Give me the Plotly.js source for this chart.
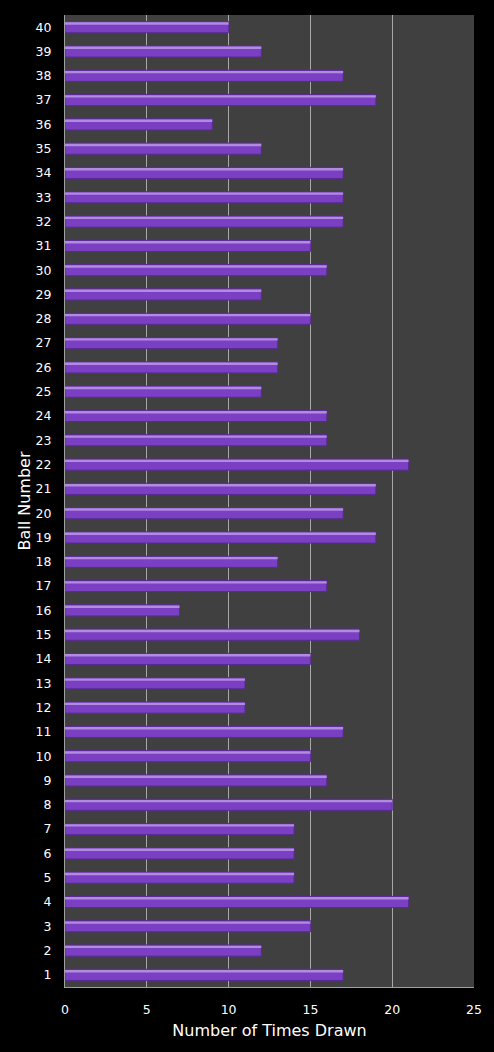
<!DOCTYPE html>
<html><head><meta charset="utf-8">
<script src="https://cdn.plot.ly/plotly-3.0.1.min.js"></script>
<style>html,body{margin:0;padding:0;background:#000;}#chart{width:494px;height:1052px;}</style>
</head><body><div id="chart"></div>
<script>
const balls = ["1","2","3","4","5","6","7","8","9","10","11","12","13","14","15","16","17","18","19","20","21","22","23","24","25","26","27","28","29","30","31","32","33","34","35","36","37","38","39","40"];
const timesDrawn = [17,12,15,21,14,14,14,20,16,15,17,11,11,15,18,7,16,13,19,17,19,21,16,16,12,13,13,15,12,16,15,17,17,17,12,9,19,17,12,10];

const base = {
  type: 'bar', orientation: 'h', y: balls, x: timesDrawn,
  width: 0.46, hoverinfo: 'skip',
  marker: {color: '#7b3fc4', line: {color: '#5a2a94', width: 1}}
};
const hi = {
  type: 'bar', orientation: 'h', y: balls, x: timesDrawn,
  width: 0.1, offset: 0.1, hoverinfo: 'skip',
  marker: {color: '#b08be0', line: {width: 0}}
};
const layout = {
  width: 494, height: 1052,
  paper_bgcolor: '#000', plot_bgcolor: '#404040',
  margin: {l: 65, r: 20, t: 15, b: 65},
  barmode: 'overlay', showlegend: false,
  font: {family: 'DejaVu Sans', color: '#fff', size: 12},
  xaxis: {
    range: [0, 25], dtick: 5, tick0: 0, showgrid: true, gridcolor: '#a8a8a8', gridwidth: 1,
    zeroline: false, showline: true, linecolor: '#a0a0a0',
    ticks: 'outside', ticklen: 11, tickcolor: 'rgba(0,0,0,0)',
    tickfont: {size: 12.5, color: '#fff'},
    title: {text: 'Number of Times Drawn', font: {size: 16, color: '#fff'}, standoff: 8}
  },
  yaxis: {
    type: 'category', categoryorder: 'array', categoryarray: balls,
    showgrid: false, zeroline: false, showline: true, linecolor: '#a0a0a0',
    ticks: 'outside', ticklen: 10, tickcolor: 'rgba(0,0,0,0)',
    tickfont: {size: 12.5, color: '#fff'},
    title: {text: 'Ball Number', font: {size: 16, color: '#fff'}, standoff: 0}
  }
};
Plotly.newPlot('chart', [base, hi], layout, {displayModeBar: false, staticPlot: true});
</script></body></html>
